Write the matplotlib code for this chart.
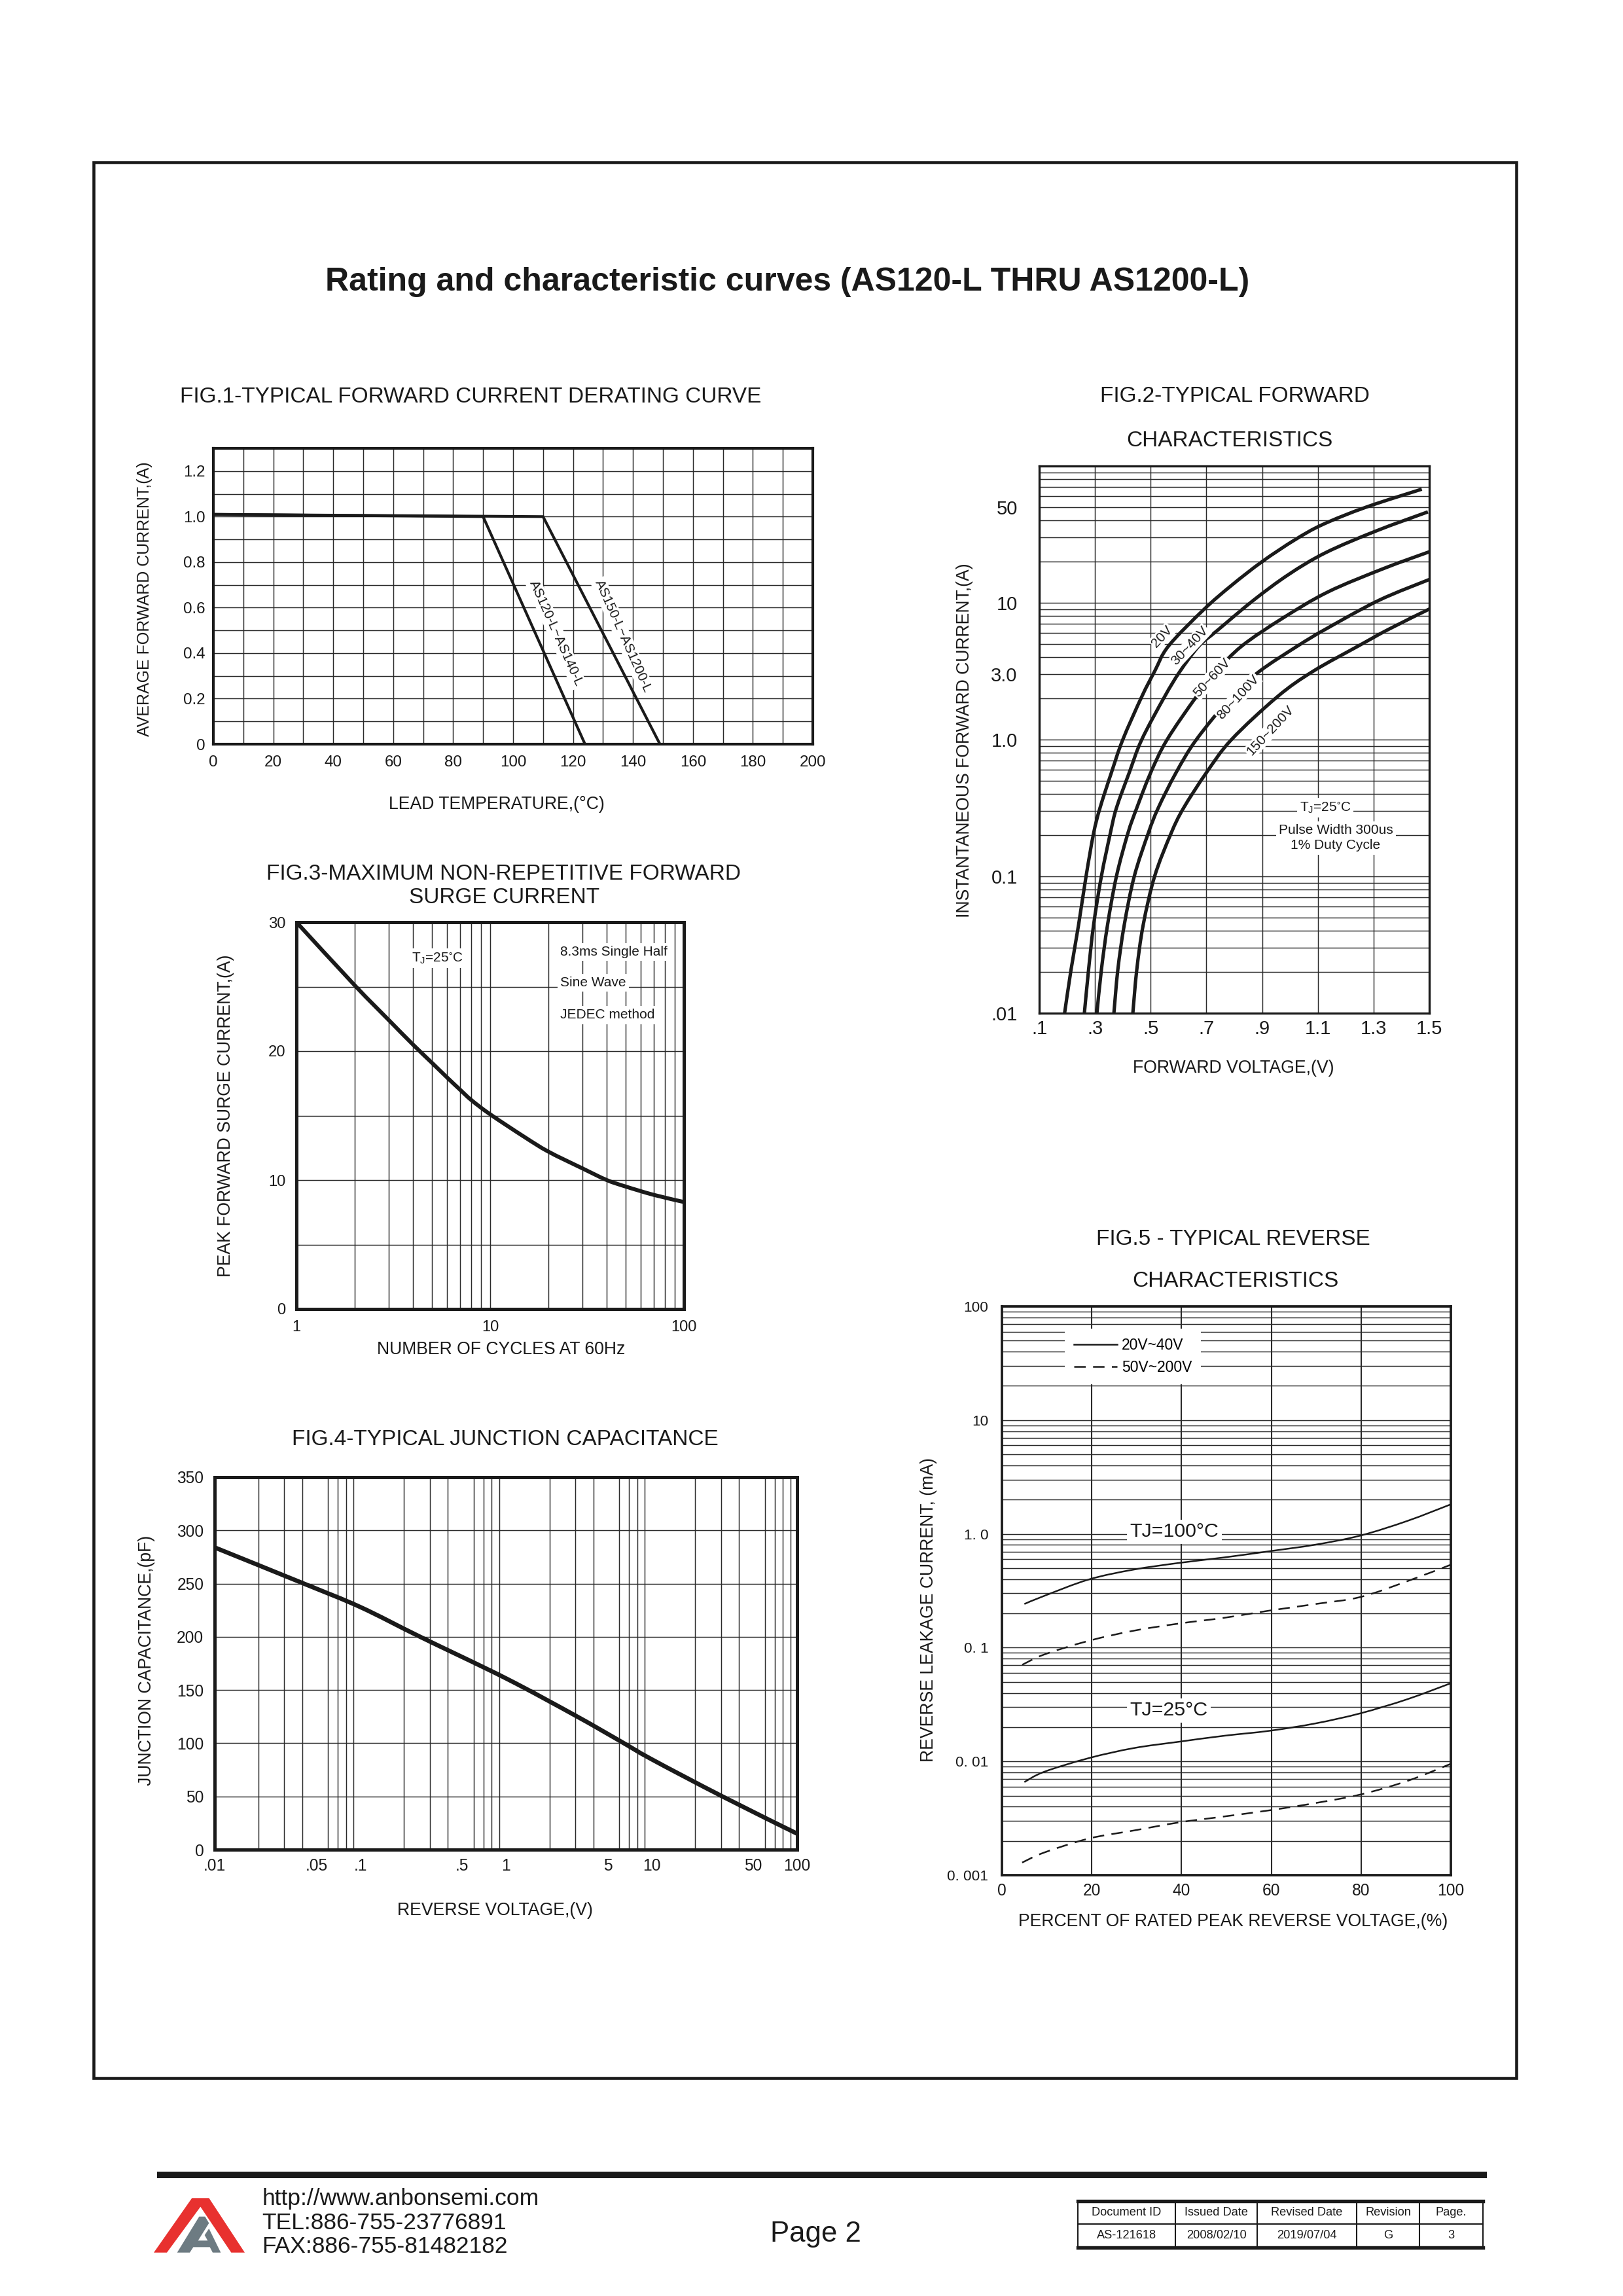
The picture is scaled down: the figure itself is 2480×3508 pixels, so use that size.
import numpy as np
import matplotlib
matplotlib.use('Agg')
import matplotlib.pyplot as plt
from matplotlib.patches import Polygon, Rectangle, PathPatch
from matplotlib.path import Path
from matplotlib.lines import Line2D
from matplotlib.ticker import FixedLocator, NullFormatter

plt.rcParams['font.family'] = ['Liberation Sans', 'DejaVu Sans']
plt.rcParams['mathtext.default'] = 'regular'

INK = '#1a1a1a'
GRID = '#2a2a2a'

# ---------------- data ----------------
# Fig.1 derating
fig1_temp_a = [0, 90, 124]
fig1_curr_a = [1.01, 1.0, 0.0]
fig1_temp_b = [0, 110, 149]
fig1_curr_b = [1.01, 1.0, 0.0]
fig1_labels = ['AS120-L~AS140-L', 'AS150-L~AS1200-L']
fig1_label_x = [114.3, 136.6]
fig1_label_y = [0.487, 0.474]
fig1_xticks = [0, 20, 40, 60, 80, 100, 120, 140, 160, 180, 200]
fig1_yticks = [0, 0.2, 0.4, 0.6, 0.8, 1.0, 1.2]
fig1_yticklabels = ['0', '0.2', '0.4', '0.6', '0.8', '1.0', '1.2']

# Fig.2 forward characteristics
fig2_v_20 = [0.191, 0.214, 0.241, 0.268, 0.295, 0.318, 0.359, 0.40, 0.468, 0.514, 0.564, 0.69, 0.79, 0.90, 1.018, 1.118, 1.273, 1.473]
fig2_i_20 = [0.01, 0.0207, 0.044, 0.1, 0.206, 0.316, 0.573, 1.0, 2.06, 3.15, 4.83, 8.9, 13.4, 20, 28.9, 37.4, 50, 67.7]
fig2_v_40 = [0.262, 0.277, 0.295, 0.323, 0.355, 0.377, 0.423, 0.468, 0.55, 0.605, 0.673, 0.736, 0.868, 0.995, 1.127, 1.309, 1.495]
fig2_i_40 = [0.01, 0.0207, 0.044, 0.1, 0.206, 0.316, 0.573, 1.0, 2.06, 3.15, 4.83, 6.2, 10.4, 16.1, 23.2, 33.5, 46.2]
fig2_v_60 = [0.307, 0.323, 0.345, 0.377, 0.418, 0.45, 0.5, 0.559, 0.664, 0.736, 0.827, 0.973, 1.136, 1.336, 1.5]
fig2_i_60 = [0.01, 0.0207, 0.044, 0.1, 0.206, 0.316, 0.573, 1.0, 2.06, 3.15, 4.83, 7.7, 12.0, 17.8, 23.6]
fig2_v_100 = [0.368, 0.382, 0.405, 0.441, 0.491, 0.527, 0.591, 0.664, 0.79, 0.89, 1.027, 1.127, 1.318, 1.5]
fig2_i_100 = [0.01, 0.0207, 0.044, 0.1, 0.206, 0.316, 0.573, 1.0, 2.06, 3.15, 4.83, 6.4, 10.4, 14.8]
fig2_v_200 = [0.436, 0.45, 0.473, 0.514, 0.573, 0.618, 0.7, 0.79, 0.955, 1.082, 1.245, 1.354, 1.5]
fig2_i_200 = [0.01, 0.0207, 0.044, 0.1, 0.206, 0.316, 0.573, 1.0, 2.06, 3.15, 4.83, 6.4, 9.0]
fig2_curve_labels = ['20V', '30~40V', '50~60V', '80~100V', '150~200V']
fig2_label_v = [0.541, 0.641, 0.72, 0.814, 0.929]
fig2_label_i = [5.67, 4.83, 2.84, 2.04, 1.16]
fig2_xticks = [0.1, 0.3, 0.5, 0.7, 0.9, 1.1, 1.3, 1.5]
fig2_xticklabels = ['.1', '.3', '.5', '.7', '.9', '1.1', '1.3', '1.5']
fig2_yticks = [0.01, 0.1, 1.0, 3.0, 10, 50]
fig2_yticklabels = ['.01', '0.1', '1.0', '3.0', '10', '50']

# Fig.3 surge current
fig3_cycles = [1, 2, 3, 4, 5, 6, 7, 8, 10, 15, 20, 30, 40, 50, 70, 100]
fig3_amps = [30, 25.1, 22.4, 20.5, 19.1, 17.95, 17.0, 16.2, 15.1, 13.35, 12.2, 10.9, 10.0, 9.5, 8.85, 8.3]
fig3_xticks = [1, 10, 100]
fig3_yticks = [0, 10, 20, 30]

# Fig.4 junction capacitance
fig4_volt = [0.01, 0.041, 0.1, 0.258, 1, 3, 6.1, 10, 30.7, 100]
fig4_cap = [284, 250, 228, 200, 161, 126, 102, 85, 50, 15]
fig4_xticks = [0.01, 0.05, 0.1, 0.5, 1, 5, 10, 50, 100]
fig4_xticklabels = ['.01', '.05', '.1', '.5', '1', '5', '10', '50', '100']
fig4_yticks = [0, 50, 100, 150, 200, 250, 300, 350]

# Fig.5 reverse characteristics
fig5_pct = [5, 9.4, 19.4, 29.4, 39.5, 49.5, 59.7, 69.9, 79.9, 90.3, 100]
fig5_pct_d = [4.5, 9.4, 19.4, 29.4, 39.5, 49.5, 59.7, 69.9, 79.9, 90.3, 100]
fig5_100_solid = [0.242, 0.285, 0.398, 0.486, 0.556, 0.621, 0.705, 0.805, 0.968, 1.30, 1.82]
fig5_100_dash = [0.0706, 0.087, 0.115, 0.141, 0.163, 0.183, 0.212, 0.242, 0.279, 0.384, 0.536]
fig5_25_solid = [0.00658, 0.0081, 0.0107, 0.0131, 0.0149, 0.0168, 0.0186, 0.0216, 0.0265, 0.0352, 0.0487]
fig5_25_dash = [0.00129, 0.00158, 0.0021, 0.00247, 0.00291, 0.00328, 0.00372, 0.00431, 0.00512, 0.00673, 0.00953]
fig5_xticks = [0, 20, 40, 60, 80, 100]
fig5_yticks = [0.001, 0.01, 0.1, 1, 10, 100]
fig5_yticklabels = ['0. 001', '0. 01', '0. 1', '1. 0', '10', '100']
fig5_legend = ['20V~40V', '50V~200V']

# ---------------- figure ----------------
W, H = 2480, 3508
DPI = 300
fig = plt.figure(figsize=(W / DPI, H / DPI), dpi=DPI)


def box(l, t, r, b):
    return [l / W, 1 - b / H, (r - l) / W, (b - t) / H]


def ftext(x, y, s, **kw):
    kw.setdefault('ha', 'center')
    kw.setdefault('va', 'center')
    kw.setdefault('color', INK)
    return fig.text(x / W, 1 - y / H, s, **kw)


def log_minors(lo_exp, hi_exp):
    vals = []
    for e in range(lo_exp, hi_exp):
        for m in range(1, 10):
            vals.append(m * 10.0 ** e)
    vals.append(10.0 ** hi_exp)
    return vals


def smooth_curve(ax, xs, ys, logx=False, logy=False, **kw):
    """Draw a smooth (Catmull-Rom / Bezier) line through the read points."""
    X = np.log10(xs) if logx else np.asarray(xs, float)
    Y = np.log10(ys) if logy else np.asarray(ys, float)
    P = np.column_stack([X, Y])
    n = len(P)
    verts = [P[0]]
    codes = [Path.MOVETO]
    for i in range(n - 1):
        p0 = P[max(i - 1, 0)]
        p1 = P[i]
        p2 = P[i + 1]
        p3 = P[min(i + 2, n - 1)]
        verts += [p1 + (p2 - p0) / 6.0, p2 - (p3 - p1) / 6.0, p2]
        codes += [Path.CURVE4] * 3
    V = np.array(verts)
    if logx:
        V[:, 0] = 10 ** V[:, 0]
    if logy:
        V[:, 1] = 10 ** V[:, 1]
    patch = PathPatch(Path(V, codes), fill=False, **kw)
    ax.add_patch(patch)
    return patch


def style(ax, spine_lw, tick_fs, xpad, ypad):
    for s in ax.spines.values():
        s.set_linewidth(spine_lw)
        s.set_color(INK)
        s.set_zorder(5)
    ax.tick_params(which='both', length=0, labelsize=tick_fs, colors=INK)
    ax.tick_params(axis='x', pad=xpad)
    ax.tick_params(axis='y', pad=ypad)
    ax.set_axisbelow(True)


WHITE = dict(facecolor='white', edgecolor='none', pad=1.0)

# ---- decoration layer (page frame, footer) ----
deco = fig.add_axes([0, 0, 1, 1], zorder=-5)
deco.set_xlim(0, W)
deco.set_ylim(H, 0)
deco.axis('off')
deco.add_patch(Rectangle((143, 248), 2317 - 143, 3175 - 248, fill=False, lw=1.1, edgecolor=INK))
deco.add_patch(Rectangle((240, 3318), 2272 - 240, 10, facecolor=INK, edgecolor='none'))


def lp(pts):
    return [(230 + x / 3.0, 3340 + y / 3.0) for x, y in pts]


deco.add_patch(Polygon(lp([(15, 305), (190, 55), (268, 55), (432, 305), (370, 305), (229, 95), (75, 305)]),
                       closed=True, facecolor='#e8312f', edgecolor='none'))
deco.add_patch(Polygon(lp([(122, 305), (223, 140), (250, 140), (268, 170), (218, 250), (262, 250),
                           (248, 225), (268, 195), (322, 305), (285, 305), (272, 280), (196, 280), (180, 305)]),
                       closed=True, facecolor='#6d7b82', edgecolor='none'))

ftext(400, 3360, 'http://www.anbonsemi.com', ha='left', fontsize=8.5)
ftext(400, 3396, 'TEL:886-755-23776891', ha='left', fontsize=8.5)
ftext(400, 3433, 'FAX:886-755-81482182', ha='left', fontsize=8.5)
ftext(1246, 3413, 'Page 2', fontsize=10.5)

# footer table
tab_x = [1647, 1796, 1921, 2073, 2169, 2266]
tab_top, tab_mid, tab_bot = 3363, 3398, 3434
tab_head = ['Document ID', 'Issued Date', 'Revised Date', 'Revision', 'Page.']
tab_vals = ['AS-121618', '2008/02/10', '2019/07/04', 'G', '3']
deco.plot([tab_x[0], tab_x[-1]], [tab_top, tab_top], color=INK, lw=1.3)
deco.plot([tab_x[0], tab_x[-1]], [tab_bot, tab_bot], color=INK, lw=1.3)
deco.plot([tab_x[0], tab_x[-1]], [tab_mid, tab_mid], color=INK, lw=0.5)
for xx in tab_x:
    deco.plot([xx, xx], [tab_top, tab_bot], color=INK, lw=0.5)
for i in range(5):
    cx = (tab_x[i] + tab_x[i + 1]) / 2
    ftext(cx, (tab_top + tab_mid) / 2, tab_head[i], fontsize=4.4)
    ftext(cx, (tab_mid + tab_bot) / 2, tab_vals[i], fontsize=4.4)

# main title
ftext(1203, 431, 'Rating and characteristic curves (AS120-L THRU AS1200-L)', fontsize=12, fontweight='bold')

# ---------------- Fig.1 ----------------
ax1 = fig.add_axes(box(326, 685, 1242, 1137))
ax1.plot(fig1_temp_a, fig1_curr_a, color=INK, lw=1.0, solid_joinstyle='miter', zorder=3)
ax1.plot(fig1_temp_b, fig1_curr_b, color=INK, lw=1.0, solid_joinstyle='miter', zorder=3)
ax1.set_xlim(0, 200)
ax1.set_ylim(0, 1.3)
ax1.set_xticks(fig1_xticks)
ax1.set_xticklabels([str(v) for v in fig1_xticks])
ax1.set_yticks(fig1_yticks)
ax1.set_yticklabels(fig1_yticklabels)
ax1.xaxis.set_minor_locator(FixedLocator(list(range(0, 201, 10))))
ax1.yaxis.set_minor_locator(FixedLocator([i / 10 for i in range(0, 14)]))
ax1.grid(which='both', color=GRID, lw=0.35)
style(ax1, 1.0, 5.8, 4, 3)
for s, x, y in zip(fig1_labels, fig1_label_x, fig1_label_y):
    ax1.text(x, y, s, rotation=-65.9, rotation_mode='anchor', ha='center', va='center',
             fontsize=5, color=INK, bbox=dict(facecolor='white', edgecolor='none', pad=0.6), zorder=4)
ftext(719, 607, 'FIG.1-TYPICAL FORWARD CURRENT DERATING CURVE', fontsize=8)
ftext(221, 915, 'AVERAGE FORWARD CURRENT,(A)', fontsize=6, rotation=90)
ftext(759, 1229, 'LEAD TEMPERATURE,(°C)', fontsize=6.4)

# ---------------- Fig.2 ----------------
ax2 = fig.add_axes(box(1588, 712, 2184, 1548))
ax2.set_yscale('log')
ax2.set_xlim(0.1, 1.5)
ax2.set_ylim(0.01, 100)
for v, i in [(fig2_v_20, fig2_i_20), (fig2_v_40, fig2_i_40), (fig2_v_60, fig2_i_60),
             (fig2_v_100, fig2_i_100), (fig2_v_200, fig2_i_200)]:
    smooth_curve(ax2, v, i, logy=True, edgecolor=INK, lw=1.25, zorder=3, capstyle='butt')
ax2.set_xticks(fig2_xticks)
ax2.set_xticklabels(fig2_xticklabels)
ax2.set_yticks(fig2_yticks)
ax2.set_yticklabels(fig2_yticklabels)
ax2.yaxis.set_minor_locator(FixedLocator(log_minors(-2, 2)))
ax2.yaxis.set_minor_formatter(NullFormatter())
ax2.grid(which='both', axis='y', color=GRID, lw=0.35)
ax2.grid(which='major', axis='x', color=GRID, lw=0.35)
style(ax2, 0.8, 7, 2.5, 8)
for s, v, i in zip(fig2_curve_labels, fig2_label_v, fig2_label_i):
    ax2.text(v, i, s, rotation=47, rotation_mode='anchor', ha='center', va='center', fontsize=5,
             color=INK, bbox=dict(facecolor='white', edgecolor='none', pad=0.4), zorder=4)
ax2.text(1.127, 0.318, 'T$_{J}$=25$^{\\circ}$C', ha='center', va='center', fontsize=5, color=INK, bbox=WHITE, zorder=4)
ax2.text(1.165, 0.217, 'Pulse Width 300us', ha='center', va='center', fontsize=5, color=INK, bbox=WHITE, zorder=4)
ax2.text(1.162, 0.168, '1% Duty Cycle', ha='center', va='center', fontsize=5, color=INK, bbox=WHITE, zorder=4)
ftext(1887, 606, 'FIG.2-TYPICAL FORWARD', fontsize=8)
ftext(1879, 673, 'CHARACTERISTICS', fontsize=8)
ftext(1474, 1131, 'INSTANTANEOUS FORWARD CURRENT,(A)', fontsize=6.4, rotation=90)
ftext(1885, 1632, 'FORWARD VOLTAGE,(V)', fontsize=6.4)

# ---------------- Fig.3 ----------------
ax3 = fig.add_axes(box(453, 1409, 1045, 2000))
ax3.set_xscale('log')
ax3.set_xlim(1, 100)
ax3.set_ylim(0, 30)
smooth_curve(ax3, fig3_cycles, fig3_amps, logx=True, edgecolor=INK, lw=1.45, zorder=3)
ax3.set_xticks(fig3_xticks)
ax3.set_xticklabels(['1', '10', '100'])
ax3.set_yticks(fig3_yticks)
ax3.set_yticklabels([str(v) for v in fig3_yticks])
ax3.xaxis.set_minor_locator(FixedLocator(log_minors(0, 2)))
ax3.xaxis.set_minor_formatter(NullFormatter())
ax3.yaxis.set_minor_locator(FixedLocator([0, 5, 10, 15, 20, 25, 30]))
ax3.grid(which='both', color=GRID, lw=0.35)
style(ax3, 1.2, 5.7, 4, 4)
ax3.text(5.33, 27.2, 'T$_{J}$=25$^{\\circ}$C', ha='center', va='center', fontsize=5, color=INK, bbox=WHITE, zorder=4)
ax3.text(22.96, 27.7, '8.3ms Single Half', ha='left', va='center', fontsize=5, color=INK, bbox=WHITE, zorder=4)
ax3.text(22.96, 25.3, 'Sine Wave', ha='left', va='center', fontsize=5, color=INK, bbox=WHITE, zorder=4)
ax3.text(22.96, 22.8, 'JEDEC method', ha='left', va='center', fontsize=5, color=INK, bbox=WHITE, zorder=4)
ftext(769, 1336, 'FIG.3-MAXIMUM NON-REPETITIVE FORWARD', fontsize=8)
ftext(771, 1372, 'SURGE CURRENT', fontsize=8)
ftext(345, 1705, 'PEAK FORWARD SURGE CURRENT,(A)', fontsize=6.4, rotation=90)
ftext(766, 2062, 'NUMBER OF CYCLES AT 60Hz', fontsize=6.4)

# ---------------- Fig.4 ----------------
ax4 = fig.add_axes(box(328, 2257, 1218, 2826))
ax4.set_xscale('log')
ax4.set_xlim(0.01, 100)
ax4.set_ylim(0, 350)
smooth_curve(ax4, fig4_volt, fig4_cap, logx=True, edgecolor=INK, lw=1.6, zorder=3)
ax4.set_xticks(fig4_xticks)
ax4.set_xticklabels(fig4_xticklabels)
ax4.set_yticks(fig4_yticks)
ax4.set_yticklabels([str(v) for v in fig4_yticks])
ax4.xaxis.set_minor_locator(FixedLocator(log_minors(-2, 2)))
ax4.xaxis.set_minor_formatter(NullFormatter())
ax4.grid(which='minor', axis='x', color=GRID, lw=0.35)
ax4.grid(which='major', axis='y', color=GRID, lw=0.35)
style(ax4, 1.2, 5.9, 3, 4)
ftext(772, 2200, 'FIG.4-TYPICAL JUNCTION CAPACITANCE', fontsize=8)
ftext(224, 2537, 'JUNCTION CAPACITANCE,(pF)', fontsize=6.4, rotation=90)
ftext(756, 2919, 'REVERSE VOLTAGE,(V)', fontsize=6.4)

# ---------------- Fig.5 ----------------
ax5 = fig.add_axes(box(1531, 1996, 2217, 2865))
ax5.set_yscale('log')
ax5.set_xlim(0, 100)
ax5.set_ylim(0.001, 100)
dash = (0, (7, 4.5))
smooth_curve(ax5, fig5_pct, fig5_100_solid, logy=True, edgecolor=INK, lw=0.6, zorder=3)
smooth_curve(ax5, fig5_pct_d, fig5_100_dash, logy=True, edgecolor=INK, lw=0.6, linestyle=dash, zorder=3)
smooth_curve(ax5, fig5_pct, fig5_25_solid, logy=True, edgecolor=INK, lw=0.6, zorder=3)
smooth_curve(ax5, fig5_pct_d, fig5_25_dash, logy=True, edgecolor=INK, lw=0.6, linestyle=dash, zorder=3)
ax5.set_xticks(fig5_xticks)
ax5.set_xticklabels([str(v) for v in fig5_xticks])
ax5.set_yticks(fig5_yticks)
ax5.set_yticklabels(fig5_yticklabels)
ax5.yaxis.set_minor_locator(FixedLocator(log_minors(-3, 2)))
ax5.yaxis.set_minor_formatter(NullFormatter())
ax5.grid(which='both', axis='y', color=GRID, lw=0.35)
ax5.grid(which='major', axis='x', color=GRID, lw=0.5)
style(ax5, 0.9, 5.4, 3, 5)
ax5.tick_params(axis='x', labelsize=5.9)
h_solid = Line2D([], [], color=INK, lw=0.6)
h_dash = Line2D([], [], color=INK, lw=0.6, ls=dash)
leg = ax5.legend([h_solid, h_dash], fig5_legend, loc='center left', bbox_to_anchor=(0.14, 0.912),
                 fontsize=5.5, frameon=True, fancybox=False, framealpha=1, edgecolor='none',
                 facecolor='white', handlelength=2.9, handletextpad=0.3, borderpad=0.6,
                 labelspacing=0.5, borderaxespad=0)
leg.set_zorder(6)
ax5.text(28.5, 1.045, 'TJ=100°C', ha='left', va='center', fontsize=7.3, color=INK, bbox=WHITE, zorder=4)
ax5.text(28.5, 0.028, 'TJ=25°C', ha='left', va='center', fontsize=7.3, color=INK, bbox=WHITE, zorder=4)
ftext(1884, 1893, 'FIG.5 - TYPICAL REVERSE', fontsize=8)
ftext(1888, 1957, 'CHARACTERISTICS', fontsize=8)
ftext(1419, 2460, 'REVERSE LEAKAGE CURRENT, (mA)', fontsize=6.4, rotation=90)
ftext(1884, 2936, 'PERCENT OF RATED PEAK REVERSE VOLTAGE,(%)', fontsize=6.4)

fig.savefig('out.png', dpi=DPI, facecolor='white')
